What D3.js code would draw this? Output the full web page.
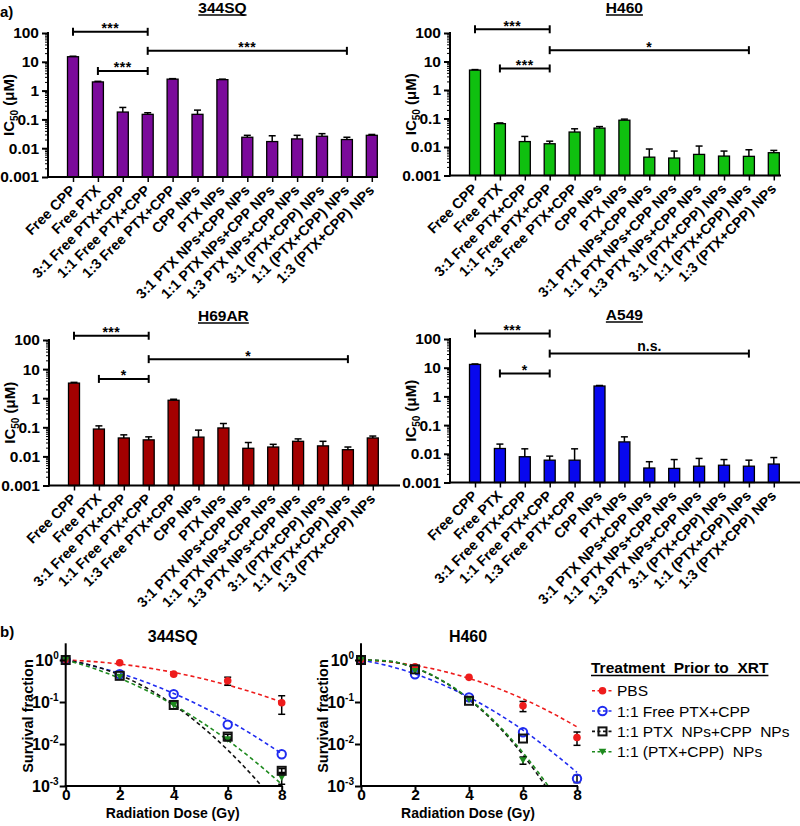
<!DOCTYPE html>
<html><head><meta charset="utf-8">
<script src="https://cdn.jsdelivr.net/npm/d3@7"></script>
<style>
body{margin:0;background:#fff;}
svg{font-family:Arial,"Liberation Sans",sans-serif;}
</style></head><body>
<svg id="chart" width="800" height="826"></svg>
<script>
// ---------------- DATA ----------------
const categories = ["Free CPP","Free PTX","3:1 Free PTX+CPP","1:1 Free PTX+CPP","1:3 Free PTX+CPP","CPP NPs","PTX NPs","3:1 PTX NPs+CPP NPs","1:1 PTX NPs+CPP NPs","1:3 PTX NPs+CPP NPs","3:1 (PTX+CPP) NPs","1:1 (PTX+CPP) NPs","1:3 (PTX+CPP) NPs"];

const ic50_344SQ = [15, 2.0, 0.18, 0.15, 2.5, 0.15, 2.4, 0.024, 0.017, 0.021, 0.026, 0.020, 0.028];
const err_344SQ  = [0.6, 0.1, 0.08, 0.02, 0.1, 0.06, 0.1, 0.004, 0.010, 0.007, 0.006, 0.004, 0.002];
const ic50_H460  = [5.0, 0.066, 0.0155, 0.013, 0.0335, 0.046, 0.087, 0.0044, 0.0041, 0.0055, 0.0048, 0.0047, 0.0063];
const err_H460   = [0.2, 0.004, 0.008, 0.003, 0.010, 0.006, 0.008, 0.0041, 0.0031, 0.0053, 0.0024, 0.0033, 0.0013];
const ic50_H69AR = [3.3, 0.087, 0.043, 0.037, 0.85, 0.046, 0.095, 0.019, 0.021, 0.033, 0.023, 0.017, 0.043];
const err_H69AR  = [0.2, 0.025, 0.012, 0.010, 0.07, 0.034, 0.040, 0.011, 0.005, 0.007, 0.010, 0.004, 0.007];
const ic50_A549  = [13, 0.0153, 0.0079, 0.006, 0.006, 2.3, 0.026, 0.0032, 0.0031, 0.0037, 0.0040, 0.0037, 0.0044];
const err_A549   = [0.5, 0.0065, 0.0070, 0.0023, 0.0089, 0.1, 0.013, 0.0021, 0.0032, 0.0032, 0.0023, 0.0023, 0.0030];

const sig_344SQ = [{from:0,to:3,level:110,label:"***"},{from:1,to:3,level:4.8,label:"***"},{from:3,to:11,level:24,label:"***"}];
const sig_H460  = [{from:0,to:3,level:135,label:"***"},{from:1,to:3,level:5.7,label:"***"},{from:3,to:11,level:25,label:"*"}];
const sig_H69AR = [{from:0,to:3,level:140,label:"***"},{from:1,to:3,level:4.6,label:"*"},{from:3,to:11,level:22,label:"*"}];
const sig_A549  = [{from:0,to:3,level:155,label:"***"},{from:1,to:3,level:6.3,label:"*"},{from:3,to:11,level:31,label:"n.s."}];

const barTicks = [0.001,0.01,0.1,1,10,100];
const barTickLabels = ["0.001","0.01","0.1","1","10","100"];

const doses = [0,2,4,6,8];
const sf344_PBS  = [1, 0.86, 0.46, 0.32, 0.096];
const se344_PBS  = [0, 0, 0, 0.07, 0.045];
const sf344_Free = [1, 0.46, 0.154, 0.029, 0.0057];
const se344_Free = [0, 0, 0, 0, 0];
const sf344_Mix  = [1, 0.42, 0.085, 0.015, 0.0023];
const se344_Mix  = [0, 0, 0, 0.002, 0.0003];
const sf344_Co   = [1, 0.40, 0.085, 0.013, 0.0016];
const se344_Co   = [0, 0, 0, 0.001, 0.0005];

const sfH460_PBS  = [1, 0.69, 0.386, 0.081, 0.0143];
const seH460_PBS  = [0, 0, 0, 0.022, 0.005];
const sfH460_Free = [1, 0.455, 0.129, 0.019, 0.0015];
const seH460_Free = [0, 0, 0, 0, 0.0003];
const sfH460_Mix  = [1, 0.60, 0.107, 0.0135, null];
const seH460_Mix  = [0, 0, 0, 0, 0];
const sfH460_Co   = [1, 0.55, 0.115, 0.0041, null];
const seH460_Co   = [0, 0, 0, 0.0008, 0];

const fitDoses = [0,1,2,3,4,5,6,7,8];
const fit344_PBS  = [1, 0.921, 0.80, 0.656, 0.506, 0.369, 0.253, 0.164, 0.100];
const fit344_Free = [1, 0.726, 0.481, 0.291, 0.160, 0.0805, 0.037, 0.0154, 0.0059];
const fit344_Mix  = [1, 0.736, 0.440, 0.215, 0.085, 0.0275, 0.0072, 0.00154, 0.00027];
const fit344_Co   = [1, 0.643, 0.368, 0.187, 0.085, 0.0342, 0.0123, 0.0039, 0.0011];
const fitH460_PBS  = [1, 0.908, 0.744, 0.55, 0.366, 0.22, 0.119, 0.058, 0.0256];
const fitH460_Free = [1, 0.73, 0.468, 0.263, 0.130, 0.0563, 0.0214, 0.0071, 0.0021];
const fitH460_Mix  = [1, 0.94, 0.64, 0.32, 0.115, 0.030, 0.0055, 0.0007, null];
const fitH460_Co   = [1, 0.947, 0.653, 0.328, 0.12, 0.032, 0.0062, 0.00088, null];

const survTicks = [-3,-2,-1,0];
const doseTicks = [0,2,4,6,8];
const legendTitle = "Treatment  Prior to  XRT";
const legendLabels = ["PBS","1:1 Free PTX+CPP","1:1 PTX  NPs+CPP  NPs","1:1 (PTX+CPP)  NPs"];

// ---------------- DRAW ----------------
const svg = d3.select("#chart");
const FONT = "Arial, 'Liberation Sans', sans-serif";

function underlinedTitle(g, txt, cx, by, size){
  const t = g.append("text").attr("x",cx).attr("y",by).attr("text-anchor","middle")
    .attr("font-size",size).attr("font-weight","bold").text(txt);
  const w = t.node().getComputedTextLength();
  g.append("line").attr("x1",cx-w/2).attr("x2",cx+w/2).attr("y1",by+2).attr("y2",by+2)
    .attr("stroke","#000").attr("stroke-width",1.3);
}

svg.append("text").attr("x",0).attr("y",17).attr("font-size",15).attr("font-weight","bold").text("a)");
svg.append("text").attr("x",0).attr("y",637).attr("font-size",15).attr("font-weight","bold").text("b)");

const barPanels = [
  {title:"344SQ", values:ic50_344SQ, errors:err_344SQ, sig:sig_344SQ, color:"#7b0a9b", left:48,  top:33,  bottom:177,   axisEnd:378, titleY:13},
  {title:"H460",  values:ic50_H460,  errors:err_H460,  sig:sig_H460,  color:"#0fc00f", left:450, top:33,  bottom:175.5, axisEnd:781, titleY:13},
  {title:"H69AR", values:ic50_H69AR, errors:err_H69AR, sig:sig_H69AR, color:"#a30000", left:49,  top:340, bottom:485.5, axisEnd:400, titleY:321},
  {title:"A549",  values:ic50_A549,  errors:err_A549,  sig:sig_A549,  color:"#0808ee", left:450, top:339, bottom:482.5, axisEnd:800, titleY:320}
];

const minorBar = [];
[0.001,0.01,0.1,1,10].forEach(d => { for(let k=2;k<10;k++) minorBar.push(d*k); });

barPanels.forEach(p => {
  const g = svg.append("g");
  const y = d3.scaleLog().domain([1e-3,100]).range([p.bottom,p.top]);
  const x = d3.scalePoint().domain(categories).range([p.left+25, p.left+25+12*24.9]);

  g.selectAll("rect.bar").data(categories).join("rect").attr("class","bar")
    .attr("x", c => x(c)-5.5).attr("width",11)
    .attr("y", (c,i) => y(p.values[i])).attr("height", (c,i) => p.bottom - y(p.values[i]))
    .attr("fill", p.color).attr("stroke","#000").attr("stroke-width",1.3);
  categories.forEach((c,i) => {
    const y0 = y(p.values[i]), y1 = y(p.values[i]+p.errors[i]);
    g.append("line").attr("x1",x(c)).attr("x2",x(c)).attr("y1",y0).attr("y2",y1).attr("stroke","#000").attr("stroke-width",1.5);
    g.append("line").attr("x1",x(c)-3.5).attr("x2",x(c)+3.5).attr("y1",y1).attr("y2",y1).attr("stroke","#000").attr("stroke-width",1.5);
  });

  const ya = g.append("g").attr("transform",`translate(${p.left},0)`)
    .call(d3.axisLeft(y).tickValues(barTicks).tickFormat((d,i)=>barTickLabels[i]).tickSize(6).tickPadding(3));
  ya.select(".domain").remove();
  ya.selectAll("line").attr("stroke-width",2);
  ya.selectAll("text").attr("font-size",15.5).attr("font-weight","bold").attr("font-family",FONT).attr("fill","#000");
  const ym = g.append("g").attr("transform",`translate(${p.left},0)`)
    .call(d3.axisLeft(y).tickValues(minorBar).tickFormat("").tickSize(3));
  ym.select(".domain").remove();
  ym.selectAll("line").attr("stroke-width",1);
  g.append("line").attr("x1",p.left).attr("x2",p.left).attr("y1",p.top-1).attr("y2",p.bottom+1).attr("stroke","#000").attr("stroke-width",2);

  const xa = g.append("g").attr("transform",`translate(0,${p.bottom})`).call(d3.axisBottom(x).tickSize(5));
  xa.select(".domain").remove();
  xa.selectAll("line").attr("stroke-width",1.5);
  xa.selectAll("text").attr("text-anchor","end").attr("x",-8).attr("y",7).attr("dy","0.35em")
    .attr("transform","rotate(-45)").attr("font-size",14.3).attr("font-weight","bold").attr("font-family",FONT).attr("fill","#000");
  g.append("line").attr("x1",p.left-1).attr("x2",p.axisEnd).attr("y1",p.bottom).attr("y2",p.bottom).attr("stroke","#000").attr("stroke-width",2);

  underlinedTitle(g, p.title, p.left+25+6*24.9, p.titleY, 15.5);

  const yl = g.append("text").attr("transform",`translate(${p.left-34},${(p.top+p.bottom)/2}) rotate(-90)`)
    .attr("text-anchor","middle").attr("font-size",15).attr("font-weight","bold");
  yl.append("tspan").text("IC");
  yl.append("tspan").attr("font-size",10).attr("dy",4).text("50");
  yl.append("tspan").attr("dy",-4).text(" (\u03BCM)");

  p.sig.forEach(s => {
    const x1 = x(categories[s.from]), x2 = x(categories[s.to]), yy = y(s.level);
    g.append("line").attr("x1",x1).attr("x2",x2).attr("y1",yy).attr("y2",yy).attr("stroke","#000").attr("stroke-width",2);
    [x1,x2].forEach(xx => g.append("line").attr("x1",xx).attr("x2",xx).attr("y1",yy-4).attr("y2",yy+4).attr("stroke","#000").attr("stroke-width",2));
    const isStar = s.label.indexOf("*")===0;
    g.append("text").attr("x",(x1+x2)/2).attr("y", isStar ? yy+1.5 : yy-3).attr("text-anchor","middle")
      .attr("font-size",14).attr("font-weight","bold").attr("letter-spacing", isStar ? 0.5 : 0).text(s.label);
  });
});

// ---------------- SURVIVAL ----------------
const seriesStyle = [
  {color:"#ee1c1c", marker:"dot"},
  {color:"#1f2bf0", marker:"ring"},
  {color:"#111111", marker:"square"},
  {color:"#1e8a1e", marker:"tri"}
];
const survPanels = [
  {title:"344SQ", left:65.7, vals:[sf344_PBS,sf344_Free,sf344_Mix,sf344_Co], errs:[se344_PBS,se344_Free,se344_Mix,se344_Co], fits:[fit344_PBS,fit344_Free,fit344_Mix,fit344_Co]},
  {title:"H460",  left:361,  vals:[sfH460_PBS,sfH460_Free,sfH460_Mix,sfH460_Co], errs:[seH460_PBS,seH460_Free,seH460_Mix,seH460_Co], fits:[fitH460_PBS,fitH460_Free,fitH460_Mix,fitH460_Co]}
];

function drawMarker(g, type, cx, cy, color){
  if(type==="dot") g.append("circle").attr("cx",cx).attr("cy",cy).attr("r",3.8).attr("fill",color);
  else if(type==="ring") g.append("circle").attr("cx",cx).attr("cy",cy).attr("r",4.2).attr("fill","none").attr("stroke",color).attr("stroke-width",2);
  else if(type==="square") g.append("rect").attr("x",cx-4).attr("y",cy-4).attr("width",8).attr("height",8).attr("fill","none").attr("stroke",color).attr("stroke-width",2);
  else g.append("path").attr("d",`M${cx-3.8},${cy-3} L${cx+3.8},${cy-3} L${cx},${cy+3.5} Z`).attr("fill",color);
}

survPanels.forEach((p,pi) => {
  const g = svg.append("g");
  const x = d3.scaleLinear().domain([0,8]).range([p.left, p.left+216]);
  const y = d3.scaleLog().domain([0.001,2.5]).range([786,643.3]);
  const clipId = "clip"+pi;
  svg.append("clipPath").attr("id",clipId).append("rect").attr("x",p.left).attr("y",640).attr("width",225).attr("height",146);

  p.fits.forEach((f,si) => {
    const line = d3.line().defined(d => d[1]!=null).x(d => x(d[0])).y(d => y(d[1])).curve(d3.curveMonotoneX);
    g.append("path").attr("d", line(fitDoses.map((d,i)=>[d,f[i]]))).attr("fill","none")
      .attr("stroke",seriesStyle[si].color).attr("stroke-width",1.6).attr("stroke-dasharray","4,3")
      .attr("clip-path",`url(#${clipId})`);
  });
  p.vals.forEach((v,si) => {
    doses.forEach((d,i) => {
      const e = p.errs[si][i];
      if(v[i]==null || !e) return;
      const ya = y(v[i]+e), yb = y(Math.max(v[i]-e,0.001)), xx = x(d);
      g.append("line").attr("x1",xx).attr("x2",xx).attr("y1",ya).attr("y2",yb).attr("stroke","#000").attr("stroke-width",1.5);
      [ya,yb].forEach(yy => g.append("line").attr("x1",xx-3.5).attr("x2",xx+3.5).attr("y1",yy).attr("y2",yy).attr("stroke","#000").attr("stroke-width",1.5));
    });
  });
  [0,1,3,2].forEach(si => {
    p.vals[si].forEach((v,i) => { if(v!=null) drawMarker(g, seriesStyle[si].marker, x(doses[i]), y(v), seriesStyle[si].color); });
  });

  const ya = g.append("g").attr("transform",`translate(${p.left},0)`)
    .call(d3.axisLeft(y).tickValues(survTicks.map(e=>Math.pow(10,e))).tickFormat("").tickSize(6));
  ya.select(".domain").remove();
  ya.selectAll("line").attr("stroke-width",2);
  survTicks.forEach(e => {
    const t = g.append("text").attr("x",p.left-7).attr("y",y(Math.pow(10,e))+5.5).attr("text-anchor","end")
      .attr("font-size",16).attr("font-weight","bold");
    t.append("tspan").text("10");
    t.append("tspan").attr("font-size",10).attr("dy",-7).text(e===0?"0":"-"+(-e));
  });
  g.append("line").attr("x1",p.left).attr("x2",p.left).attr("y1",643.3).attr("y2",787).attr("stroke","#000").attr("stroke-width",2);

  const xa = g.append("g").attr("transform",`translate(0,786)`)
    .call(d3.axisBottom(x).tickValues(doseTicks).tickFormat(d3.format("d")).tickSize(5).tickPadding(2));
  xa.select(".domain").remove();
  xa.selectAll("line").attr("stroke-width",2);
  xa.selectAll("text").attr("y",3).attr("font-size",15.5).attr("font-weight","bold").attr("font-family",FONT).attr("fill","#000");
  g.append("line").attr("x1",p.left-1).attr("x2",p.left+217).attr("y1",786).attr("y2",786).attr("stroke","#000").attr("stroke-width",2);

  g.append("text").attr("x",p.left+107).attr("y",642).attr("text-anchor","middle").attr("font-size",16).attr("font-weight","bold").text(p.title);
  g.append("text").attr("x",p.left+107).attr("y",818).attr("text-anchor","middle").attr("font-size",14).attr("font-weight","bold").text("Radiation Dose (Gy)");
  g.append("text").attr("transform",`translate(${p.left-33},716) rotate(-90)`).attr("text-anchor","middle")
    .attr("font-size",14.5).attr("font-weight","bold").text("Survival fraction");
});

const lg = svg.append("g");
const lt = lg.append("text").attr("x",591).attr("y",673).attr("font-size",15.5).attr("font-weight","bold")
  .style("white-space","pre").text(legendTitle);
const ltw = lt.node().getComputedTextLength();
lg.append("line").attr("x1",591).attr("x2",591+ltw).attr("y1",675.5).attr("y2",675.5).attr("stroke","#000").attr("stroke-width",1.3);
legendLabels.forEach((lab,i) => {
  const cy = 690.7 + i*20.35;
  lg.append("line").attr("x1",592).attr("x2",613).attr("y1",cy).attr("y2",cy).attr("stroke",seriesStyle[i].color)
    .attr("stroke-width",1.6).attr("stroke-dasharray","3,2.5");
  drawMarker(lg, seriesStyle[i].marker, 602.5, cy, seriesStyle[i].color);
  lg.append("text").attr("x",617).attr("y",cy+5.5).attr("font-size",15.5).style("white-space","pre").text(lab);
});
</script>
</body></html>
